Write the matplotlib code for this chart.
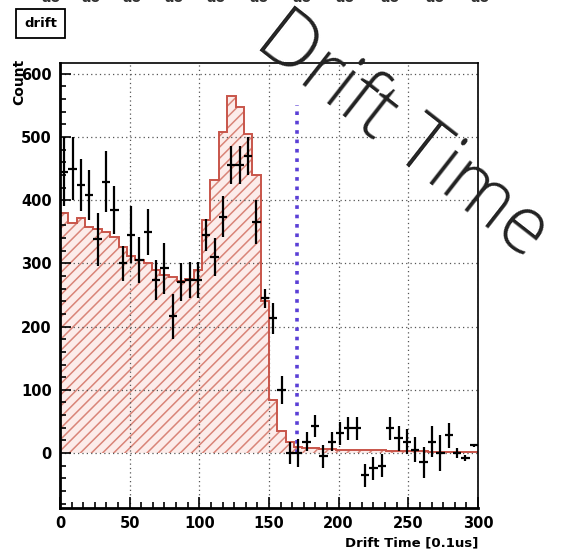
import numpy as np
import matplotlib
matplotlib.use('Agg')
import matplotlib.pyplot as plt
from matplotlib.ticker import MultipleLocator, AutoMinorLocator

# histogram (fit/MC) : 50 bins of 6 units, 0..300
edges = np.arange(0, 301, 6)
hist = [380, 364, 372, 358, 355, 350, 342, 326, 311, 305,
        300, 290, 282, 278, 272, 275, 290, 369, 432, 508,
        564, 548, 505, 440, 240, 84, 35, 18, 10, 8,
        8, 6, 6, 5, 5, 5, 4, 4, 4, 3,
        3, 3, 3, 3, 2, 2, 2, 2, 2, 2]

# data points (bin centre, count, error)
pt_x = [3, 9, 15, 21, 27, 33, 39, 45, 51, 57,
        63, 69, 75, 81, 87, 93, 99, 105, 111, 117,
        123, 129, 135, 141, 147, 153, 159, 165, 171, 177,
        183, 189, 195, 201, 207, 213, 219, 225, 231, 237,
        243, 249, 255, 261, 267, 273, 279, 285, 291, 297]
pt_y = [445, 450, 424, 408, 338, 429, 385, 300, 345, 305,
        350, 274, 292, 216, 270, 274, 274, 345, 310, 374,
        455, 455, 470, 366, 245, 213, 100, 0, 0, 18,
        43, -5, 18, 31, 39, 39, -35, -24, -20, 39,
        23, 18, 5, -15, 18, 0, 28, 0, -8, 12]
pt_err = [55, 50, 41, 40, 42, 48, 38, 28, 45, 36,
          36, 32, 40, 35, 30, 28, 28, 25, 30, 32,
          30, 30, 30, 35, 15, 25, 22, 18, 22, 15,
          17, 18, 15, 18, 18, 18, 18, 18, 18, 18,
          20, 20, 20, 25, 25, 28, 20, 8, 5, 3]

cut_x = 170
cut_top = 550

fig = plt.figure(figsize=(5.67, 5.55), dpi=100)
ax = fig.add_axes([0.1058, 0.0847, 0.7372, 0.8018])

plt.rcParams['hatch.linewidth'] = 1.1

# hatched histogram
hvals = np.append(hist, hist[-1])
ax.fill_between(edges, 0, hvals, step='post', facecolor='#fcecea',
                edgecolor='#d98478', hatch='///', linewidth=0, zorder=1)
ax.stairs(hist, edges, color='#c8554a', linewidth=1.4, zorder=2)

# data with error bars
ax.errorbar(pt_x, pt_y, yerr=pt_err, xerr=3, fmt='none', ecolor='black',
            elinewidth=1.6, capsize=0, zorder=4)

# cut line
ax.plot([cut_x, cut_x], [0, cut_top], color='#5a3fd6', linestyle=(0, (1, 1.6)),
        linewidth=2.6, zorder=3)

ax.set_xlim(0, 300)
ax.set_ylim(-87, 617)
ax.xaxis.set_major_locator(MultipleLocator(50))
ax.xaxis.set_minor_locator(AutoMinorLocator(6))
ax.yaxis.set_major_locator(MultipleLocator(100))
ax.yaxis.set_minor_locator(AutoMinorLocator(5))
ax.tick_params(which='both', direction='in', top=False, right=False,
               width=1.2, labelsize=10.5, pad=6)
ax.tick_params(which='major', length=8)
ax.tick_params(which='minor', length=4)
for lab in ax.get_xticklabels() + ax.get_yticklabels():
    lab.set_fontweight('bold')
for sp in ax.spines.values():
    sp.set_linewidth(1.2)
ax.spines['left'].set_linewidth(2)
ax.spines['bottom'].set_linewidth(2)
ax.grid(True, which='major', color='#555555', linestyle=(0, (1, 2.5)),
        linewidth=0.9, zorder=0)

ax.set_xlabel('Drift Time [0.1us]', fontsize=9.5, fontweight='bold',
              loc='right', labelpad=4)
ax.set_ylabel('Count', fontsize=10, fontweight='bold', loc='top')
ax.yaxis.set_label_coords(-0.08, 1.01)

# title box
fig.text(0.072, 0.958, 'drift', fontsize=9.5, fontweight='bold',
         ha='center', va='center',
         bbox=dict(boxstyle='square,pad=0.6', facecolor='white',
                   edgecolor='black', linewidth=1.3))

# clipped line of text at the very top edge
for xp in [0.09, 0.16, 0.233, 0.307, 0.381, 0.457, 0.533, 0.608, 0.688, 0.767, 0.847]:
    fig.text(xp, 1.004, 'ao', fontsize=10, fontweight='bold', color='#333333',
             ha='center', va='center')

# big annotation
fig.text(0.71, 0.755, 'Drift Time', fontsize=57, fontfamily='Open Sans',
         fontweight='light', color='#222222', rotation=-38,
         ha='center', va='center', rotation_mode='anchor')

fig.savefig('out.png', dpi=100)
